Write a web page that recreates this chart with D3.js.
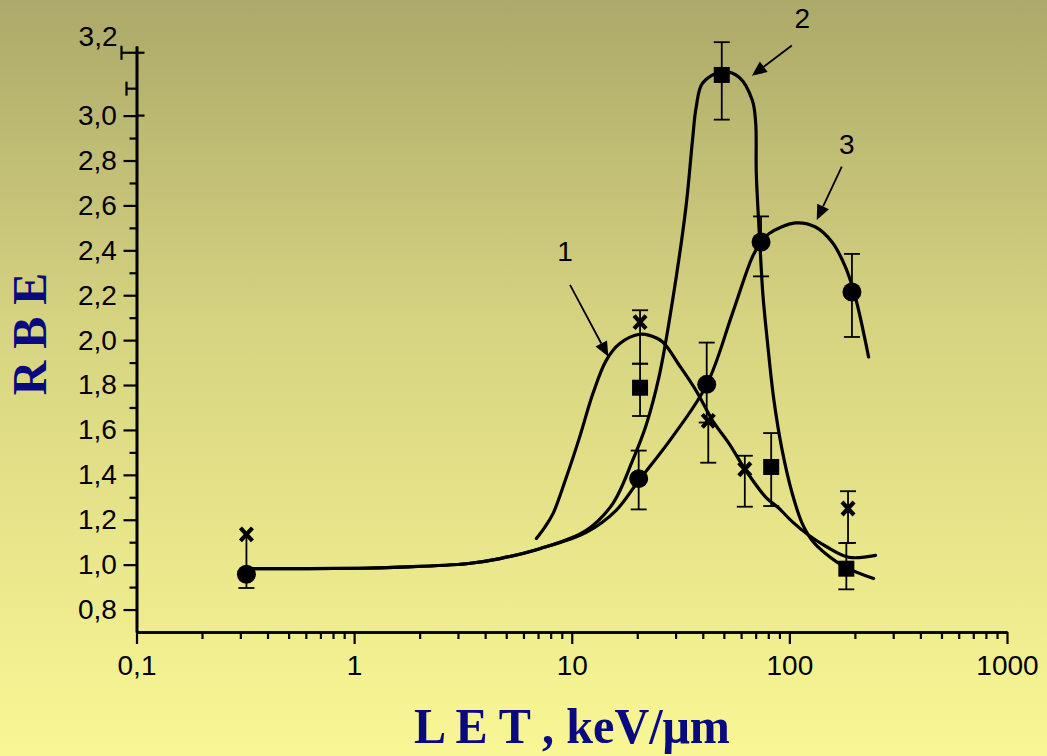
<!DOCTYPE html>
<html>
<head>
<meta charset="utf-8">
<script src="https://cdn.jsdelivr.net/npm/d3@7"></script>
<style>
  html, body { margin: 0; padding: 0; background: #f9f793; }
  svg { display: block; }
</style>
</head>
<body>
<svg id="chart" width="1047" height="756"></svg>
<script>
// ---- Data: RBE versus LET for three irradiation series ----
// Series 1 (crosses)
const s1LET = [0.32, 20.6, 42.4, 62.4, 186];
const s1RBE = [1.135, 2.08, 1.64, 1.425, 1.25];
const s1ErrHi = [0, 0.053, 0, 0.06, 0.077];
const s1ErrLo = [0.17, 0.185, 0.186, 0.167, 0.153];

// Series 2 (squares)
const s2LET = [20.6, 48.9, 82.5, 182.7];
const s2RBE = [1.788, 3.181, 1.435, 0.982];
const s2ErrHi = [0.107, 0.146, 0.151, 0.114];
const s2ErrLo = [0.126, 0.199, 0.174, 0.092];

// Series 3 (circles)
const s3LET = [0.32, 20.3, 41.7, 74.1, 193.9];
const s3RBE = [0.957, 1.383, 1.803, 2.437, 2.214];
const s3ErrHi = [0, 0.125, 0.186, 0.114, 0.17];
const s3ErrLo = [0.061, 0.137, 0.17, 0.153, 0.2];

// Fitted curves
const c1LET = [6.88, 7.51, 8.20, 9.45, 10.87, 12.51, 14.40, 16.57, 20.46, 22.74, 26.16, 31.19, 37.21, 44.31, 52.84, 63.02, 77.80, 89.54, 102.7, 122.8, 146.9, 187.3, 248.9];
const c1RBE = [1.116, 1.166, 1.227, 1.390, 1.568, 1.762, 1.910, 1.984, 2.026, 2.021, 1.992, 1.888, 1.776, 1.643, 1.539, 1.420, 1.301, 1.251, 1.193, 1.131, 1.082, 1.033, 1.041];

const c2LET = [0.32, 1.069, 1.629, 3.29, 4.68, 7.13, 11.66, 15.44, 19.06, 21.96, 25.26, 29.06, 33.47, 35.87, 37.30, 39.88, 48.9, 58.73, 67.56, 70.02, 70.47, 73.06, 75.6, 79.15, 84.92, 92.68, 103.0, 114.5, 127.2, 146.5, 180.9, 243.7];
const c2RBE = [0.982, 0.984, 0.989, 1.004, 1.027, 1.071, 1.153, 1.272, 1.465, 1.621, 1.843, 2.177, 2.592, 2.890, 3.037, 3.144, 3.195, 3.171, 3.068, 2.966, 2.743, 2.445, 2.200, 1.999, 1.732, 1.509, 1.318, 1.184, 1.108, 1.050, 0.989, 0.938];

const c3LET = [0.32, 1.069, 1.629, 3.29, 4.68, 7.13, 11.66, 16.00, 20.10, 28.97, 41.78, 54.71, 67.56, 74.1, 80.55, 106.8, 131.8, 157.0, 180.9, 200.9, 231.2];
const c3RBE = [0.982, 0.984, 0.989, 1.004, 1.027, 1.071, 1.144, 1.242, 1.368, 1.568, 1.803, 2.118, 2.370, 2.437, 2.474, 2.522, 2.504, 2.437, 2.326, 2.192, 1.925];

// Axis ticks
const xMajor = [0.1, 1, 10, 100, 1000];
const xMajorLabels = ["0,1", "1", "10", "100", "1000"];
const yMajor = [0.8, 1.0, 1.2, 1.4, 1.6, 1.8, 2.0, 2.2, 2.4, 2.6, 2.8, 3.0];
const yMinor = [0.9, 1.1, 1.3, 1.5, 1.7, 1.9, 2.1, 2.3, 2.5, 2.7, 2.9];
const yTopTick = 3.28, yTopLabel = "3,2", yTopMinor = 3.12;

// Curve labels with arrows
const curveLabels = ["1", "2", "3"];
const labelPos = [[9.32, 2.387], [114.7, 3.423], [183.5, 2.862]];
const arrowTail = [[9.82, 2.246], [102.6, 3.312], [174.1, 2.773]];
const arrowTip = [[14.73, 1.926], [67.2, 3.177], [133.6, 2.535]];

// ---- Drawing ----
const svg = d3.select("#chart");
const W = 1047, H = 756;

const defs = svg.append("defs");
const grad = defs.append("linearGradient").attr("id", "bg").attr("x1", 0).attr("y1", 0).attr("x2", 0).attr("y2", 1);
grad.append("stop").attr("offset", "0%").attr("stop-color", "#aca96a");
grad.append("stop").attr("offset", "45%").attr("stop-color", "#d8d582");
grad.append("stop").attr("offset", "100%").attr("stop-color", "#f9f794");
svg.append("rect").attr("width", W).attr("height", H).attr("fill", "url(#bg)");

const x = d3.scaleLog().domain([0.1, 1000]).range([136.5, 1007]);
const y = d3.scaleLinear().domain([0.7, 3.31]).range([632, 46]);

const fmtComma = d => d3.format(".1f")(d).replace(".", ",");
const labelFont = "'Liberation Sans', Arial, sans-serif";

// Y axis
const yAxisMajor = d3.axisLeft(y).tickValues(yMajor).tickFormat(fmtComma).tickSize(13).tickSizeOuter(0).tickPadding(8);
const yAxisMinor = d3.axisLeft(y).tickValues(yMinor).tickFormat("").tickSize(7).tickSizeOuter(0);
const gy = svg.append("g").attr("transform", `translate(${x(0.1)},0)`);
gy.call(yAxisMajor);
gy.append("g").call(yAxisMinor);

// X axis
const xMinor = [];
[0.1, 1, 10, 100].forEach(d => { for (let k = 2; k <= 9; k++) xMinor.push(d * k); });
const xAxisMajor = d3.axisBottom(x).tickValues(xMajor).tickFormat((d, i) => xMajorLabels[i]).tickSize(12).tickSizeOuter(0).tickPadding(11);
const xAxisMinor = d3.axisBottom(x).tickValues(xMinor).tickFormat("").tickSize(7).tickSizeOuter(0);
const gx = svg.append("g").attr("transform", `translate(0,${y(0.7)})`);
gx.call(xAxisMajor);
gx.append("g").call(xAxisMinor);

svg.selectAll(".domain").attr("stroke", "#000").attr("stroke-width", 2.6);
svg.selectAll(".tick line").attr("stroke", "#000").attr("stroke-width", 2.2);
svg.selectAll(".tick text").attr("fill", "#000").style("font-family", labelFont).style("font-size", "28px");
gy.selectAll(".tick text").attr("dx", "0.05em");

// Top of the y axis: "3,2" tick with bracket ends
const ax0 = x(0.1);
const gTop = svg.append("g").attr("stroke", "#000").attr("stroke-width", 2.2);
gTop.append("line").attr("x1", ax0 - 15).attr("x2", ax0 + 8).attr("y1", y(yTopTick)).attr("y2", y(yTopTick));
gTop.append("line").attr("x1", ax0 - 15).attr("x2", ax0 - 15).attr("y1", y(yTopTick) - 7).attr("y2", y(yTopTick) + 7);
gTop.append("line").attr("x1", ax0 - 10).attr("x2", ax0).attr("y1", y(yTopMinor)).attr("y2", y(yTopMinor));
gTop.append("line").attr("x1", ax0 - 10).attr("x2", ax0 - 10).attr("y1", y(yTopMinor) - 7).attr("y2", y(yTopMinor) + 7);
gTop.append("line").attr("x1", ax0).attr("x2", ax0 + 8).attr("y1", y(3.0)).attr("y2", y(3.0));
svg.append("text").attr("x", ax0 - 19).attr("y", y(yTopTick) - 14).attr("text-anchor", "end")
  .attr("dominant-baseline", "middle")
  .style("font-family", labelFont).style("font-size", "28px").text(yTopLabel);

// Curves
const line = d3.line().x(d => x(d[0])).y(d => y(d[1])).curve(d3.curveCatmullRom.alpha(0.5));
const curves = [d3.zip(c1LET, c1RBE), d3.zip(c2LET, c2RBE), d3.zip(c3LET, c3RBE)];
svg.append("g").selectAll("path").data(curves).join("path")
  .attr("d", line).attr("fill", "none").attr("stroke", "#000").attr("stroke-width", 3.2)
  .attr("stroke-linecap", "round").attr("stroke-linejoin", "round");

// Error bars
function errorBars(lets, vals, hi, lo) {
  const g = svg.append("g").attr("stroke", "#000").attr("stroke-width", 1.8);
  lets.forEach((L, i) => {
    const px = x(L);
    const top = y(vals[i] + hi[i]), bot = y(vals[i] - lo[i]);
    g.append("line").attr("x1", px).attr("x2", px).attr("y1", top).attr("y2", bot);
    if (hi[i] > 0) g.append("line").attr("x1", px - 8).attr("x2", px + 8).attr("y1", top).attr("y2", top);
    if (lo[i] > 0) g.append("line").attr("x1", px - 8).attr("x2", px + 8).attr("y1", bot).attr("y2", bot);
  });
}
errorBars(s1LET, s1RBE, s1ErrHi, s1ErrLo);
errorBars(s2LET, s2RBE, s2ErrHi, s2ErrLo);
errorBars(s3LET, s3RBE, s3ErrHi, s3ErrLo);

// Markers
svg.append("g").selectAll("circle").data(d3.zip(s3LET, s3RBE)).join("circle")
  .attr("cx", d => x(d[0])).attr("cy", d => y(d[1])).attr("r", 9.5).attr("fill", "#000");
svg.append("g").selectAll("rect").data(d3.zip(s2LET, s2RBE)).join("rect")
  .attr("x", d => x(d[0]) - 8).attr("y", d => y(d[1]) - 8).attr("width", 16).attr("height", 16).attr("fill", "#000");
svg.append("g").selectAll("path").data(d3.zip(s1LET, s1RBE)).join("path")
  .attr("transform", d => `translate(${x(d[0])},${y(d[1])})`)
  .attr("d", "M-6,-6.5L6,6.5M6,-6.5L-6,6.5")
  .attr("stroke", "#000").attr("stroke-width", 4.2).attr("fill", "none");

// Curve labels and arrows
const gLab = svg.append("g");
curveLabels.forEach((lab, i) => {
  gLab.append("text").attr("x", x(labelPos[i][0])).attr("y", y(labelPos[i][1]))
    .attr("text-anchor", "middle").attr("dominant-baseline", "middle")
    .style("font-family", labelFont).style("font-size", "28px").text(lab);
  const tx = x(arrowTail[i][0]), ty = y(arrowTail[i][1]);
  const hx = x(arrowTip[i][0]), hy = y(arrowTip[i][1]);
  const ang = Math.atan2(hy - ty, hx - tx);
  const len = 15, hw = 6.5;
  const bx = hx - len * Math.cos(ang), by = hy - len * Math.sin(ang);
  gLab.append("line").attr("x1", tx).attr("y1", ty).attr("x2", bx).attr("y2", by)
    .attr("stroke", "#000").attr("stroke-width", 1.8);
  const p1 = [bx + hw * Math.sin(ang), by - hw * Math.cos(ang)];
  const p2 = [bx - hw * Math.sin(ang), by + hw * Math.cos(ang)];
  gLab.append("path").attr("d", `M${hx},${hy}L${p1[0]},${p1[1]}L${p2[0]},${p2[1]}Z`).attr("fill", "#000");
});

// Axis titles
svg.append("text")
  .attr("transform", `translate(${46},${334}) rotate(-90)`)
  .attr("text-anchor", "middle")
  .style("font-family", "'Liberation Serif', 'Times New Roman', serif").style("font-weight", "bold")
  .style("font-size", "48px").attr("fill", "#0a0a80")
  .text("R B E");
svg.append("text")
  .attr("x", 572).attr("y", 743).attr("text-anchor", "middle")
  .attr("textLength", 316).attr("lengthAdjust", "spacingAndGlyphs")
  .style("font-family", "'Liberation Serif', 'Times New Roman', serif").style("font-weight", "bold")
  .style("font-size", "51px").attr("fill", "#0a0a80")
  .text("L E T , keV/μm");
</script>
</body>
</html>
